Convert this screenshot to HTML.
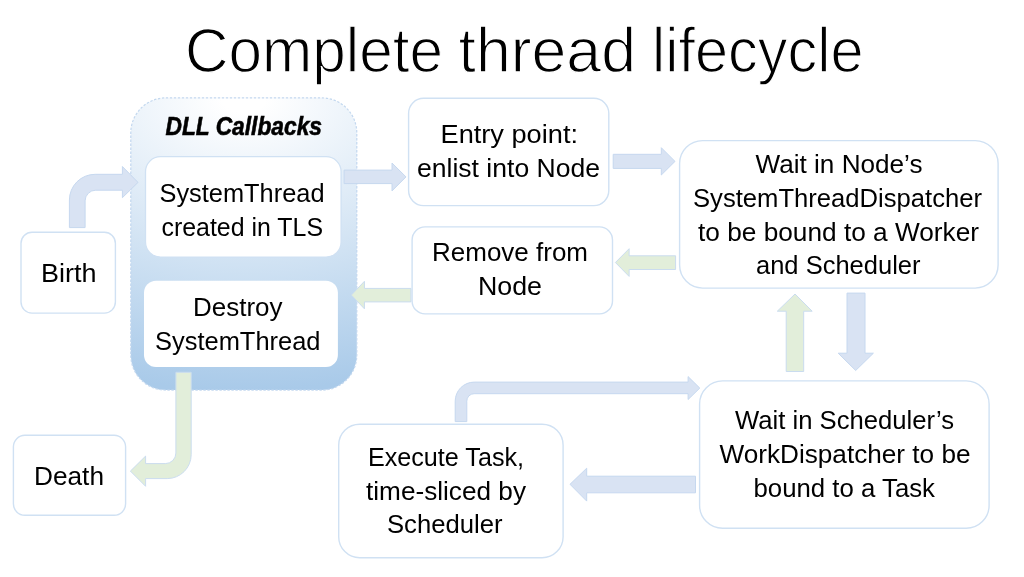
<!DOCTYPE html>
<html><head><meta charset="utf-8"><style>
html,body{margin:0;padding:0;background:#fff;width:1024px;height:577px;overflow:hidden}
svg{display:block;will-change:transform}
text{font-family:"Liberation Sans",sans-serif;fill:#000}
.t{font-size:26px}
</style></head><body>
<svg width="1024" height="577" viewBox="0 0 1024 577">
<defs>
<radialGradient id="cg" gradientUnits="userSpaceOnUse" cx="244" cy="98" r="292" fx="244" fy="98" gradientTransform="translate(244 98) scale(1.5 1) translate(-244 -98)">
<stop offset="0.05" stop-color="#FFFFFF"/>
<stop offset="1" stop-color="#A9CAE9"/>
</radialGradient>
</defs>
<text x="185.0" y="71.6" font-size="63.5" stroke="#fff" stroke-width="1.3" textLength="258.0" lengthAdjust="spacingAndGlyphs">Complete</text>
<text x="458.5" y="71.6" font-size="63.5" stroke="#fff" stroke-width="1.3" textLength="177.5" lengthAdjust="spacingAndGlyphs">thread</text>
<text x="652.0" y="71.6" font-size="63.5" stroke="#fff" stroke-width="1.3" textLength="211.5" lengthAdjust="spacingAndGlyphs">lifecycle</text>
<!-- container -->
<rect x="130.8" y="97.9" width="226" height="292.2" rx="35" fill="url(#cg)" stroke="#C3D8EF" stroke-width="1.2" stroke-dasharray="2.4 1.6"/>

<!-- inner boxes -->
<rect x="145.5" y="156.7" width="195.6" height="100.4" rx="15" fill="#fff" stroke="#D0E1F3" stroke-width="1.3"/>
<rect x="144" y="280.8" width="193.9" height="86.2" rx="12" fill="#fff"/>

<!-- boxes -->
<g fill="#fff" stroke="#D0E1F3" stroke-width="1.4">
<rect x="21" y="232.3" width="94.4" height="80.8" rx="11"/>
<rect x="13.4" y="435.3" width="112.2" height="80" rx="11.5"/>
<rect x="408.6" y="98.3" width="200.2" height="107.3" rx="15"/>
<rect x="412.1" y="226.9" width="200.4" height="87" rx="13"/>
<rect x="679.6" y="140.6" width="318.5" height="147.5" rx="23"/>
<rect x="699.6" y="380.9" width="289.5" height="147.4" rx="23"/>
<rect x="338.7" y="424.2" width="224.4" height="133.5" rx="21"/>
</g>

<!-- arrows blue -->
<g fill="#D9E3F3" stroke="#C6D8EF" stroke-width="1">
<!-- SystemThread -> Entry -->
<path d="M344.1 170.1 H392 V163 L406 176.9 L392 190.9 V183.6 H344.1 Z"/>
<!-- Entry -> Wait node -->
<path d="M613.2 154.3 H661.3 V147.7 L675 161.4 L661.3 175 V168.4 H613.2 Z"/>
<!-- down arrow -->
<path d="M847 293.1 H865 V353.2 H873.4 L855.7 370.5 L838.2 353.2 H847 Z"/>
<!-- Sched -> Execute -->
<path d="M695.5 476.2 H586.7 V468.2 L570 484.3 L586.7 501.1 V492.8 H695.5 Z"/>
<!-- Birth bent arrow -->
<path d="M69.4 227.6 V200 A25.7 25.7 0 0 1 95.1 174.3 H122.4 V166.5 L138 182.4 L122.4 197.7 V190.2 H95.8 A10.7 10.7 0 0 0 85.1 200.9 V227.6 Z"/>
<!-- Execute bent arrow -->
<path d="M455.2 421.6 V401.1 A19 19 0 0 1 474.2 382.1 H688.1 V376.6 L699.8 388.1 L688.1 399.5 V393.7 H474.2 A7.4 7.4 0 0 0 466.8 401.1 V421.6 Z"/>
</g>
<!-- arrows green -->
<g fill="#E2EEDA" stroke="#CADCEF" stroke-width="1">
<!-- Wait -> Remove -->
<path d="M675.6 255.8 H629.1 V248.7 L615.4 262.5 L629.1 276.4 V269.5 H675.6 Z"/>
<!-- Remove -> Destroy -->
<path d="M410.9 288.4 H364.4 V281.3 L351.3 295.1 L364.4 308.8 V301.9 H410.9 Z"/>
<!-- up arrow -->
<path d="M786.2 371.5 V311.2 H777.3 L795 294 L812.2 311.2 H803.7 V371.5 Z"/>
<!-- Destroy -> Death bent -->
<path d="M175.9 372.3 V453 A10.6 10.6 0 0 1 165.3 463.6 H145.6 V456.1 L130.4 471.1 L145.6 486.3 V478.6 H167.2 A24 24 0 0 0 191.2 454.6 V372.3 Z"/>
</g>

<g>
<text x="165.5" y="134.8" font-size="26" font-weight="bold" font-style="italic" stroke="#000" stroke-width="0.6" textLength="156.5" lengthAdjust="spacingAndGlyphs">DLL Callbacks</text>
<text x="159.5" y="202.3" font-size="26.2" textLength="165.0" lengthAdjust="spacingAndGlyphs">SystemThread</text>
<text x="161.5" y="236.4" font-size="26.2" textLength="161.5" lengthAdjust="spacingAndGlyphs">created in TLS</text>
<text x="193.0" y="316" font-size="26.2" textLength="89.5" lengthAdjust="spacingAndGlyphs">Destroy</text>
<text x="155.0" y="349.7" font-size="26.2" textLength="165.5" lengthAdjust="spacingAndGlyphs">SystemThread</text>
<text x="41.0" y="282" font-size="26.2" textLength="55.5" lengthAdjust="spacingAndGlyphs">Birth</text>
<text x="34.0" y="484.5" font-size="26.2" textLength="70.0" lengthAdjust="spacingAndGlyphs">Death</text>
<text x="440.5" y="143.4" font-size="26.2" textLength="137.5" lengthAdjust="spacingAndGlyphs">Entry point:</text>
<text x="417.0" y="177.2" font-size="26.2" textLength="183.0" lengthAdjust="spacingAndGlyphs">enlist into Node</text>
<text x="432.0" y="261.1" font-size="26.2" textLength="156.0" lengthAdjust="spacingAndGlyphs">Remove from</text>
<text x="478.0" y="294.6" font-size="26.2" textLength="64.0" lengthAdjust="spacingAndGlyphs">Node</text>
<text x="755.5" y="173.2" font-size="26.2" textLength="167.0" lengthAdjust="spacingAndGlyphs">Wait in Node&#8217;s</text>
<text x="693.0" y="207" font-size="26.2" textLength="289.0" lengthAdjust="spacingAndGlyphs">SystemThreadDispatcher</text>
<text x="698.0" y="240.6" font-size="26.2" textLength="281.0" lengthAdjust="spacingAndGlyphs">to be bound to a Worker</text>
<text x="756.0" y="274.4" font-size="26.2" textLength="164.5" lengthAdjust="spacingAndGlyphs">and Scheduler</text>
<text x="735.0" y="429" font-size="26.2" textLength="219.0" lengthAdjust="spacingAndGlyphs">Wait in Scheduler&#8217;s</text>
<text x="719.5" y="463" font-size="26.2" textLength="251.0" lengthAdjust="spacingAndGlyphs">WorkDispatcher to be</text>
<text x="753.5" y="496.6" font-size="26.2" textLength="181.5" lengthAdjust="spacingAndGlyphs">bound to a Task</text>
<text x="368.0" y="465.7" font-size="26.2" textLength="156.0" lengthAdjust="spacingAndGlyphs">Execute Task,</text>
<text x="366.0" y="499.9" font-size="26.2" textLength="160.0" lengthAdjust="spacingAndGlyphs">time-sliced by</text>
<text x="387.0" y="533.3" font-size="26.2" textLength="115.5" lengthAdjust="spacingAndGlyphs">Scheduler</text>
</g>

</svg>
</body></html>
